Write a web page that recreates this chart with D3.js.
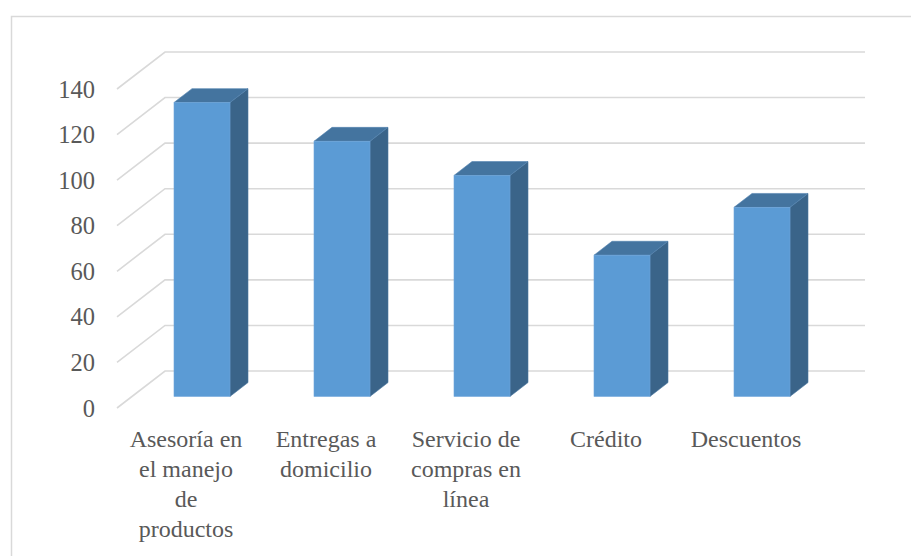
<!DOCTYPE html>
<html>
<head>
<meta charset="utf-8">
<script src="https://cdn.jsdelivr.net/npm/d3@7"></script>
<style>
  html, body { margin: 0; padding: 0; background: #ffffff; }
  svg { display: block; }
</style>
</head>
<body>
<script>
// Servicios valorados por los clientes
const categories = [
  "Asesoría en el manejo de productos",
  "Entregas a domicilio",
  "Servicio de compras en línea",
  "Crédito",
  "Descuentos"
];
const categoryLines = [
  ["Asesoría en", "el manejo", "de", "productos"],
  ["Entregas a", "domicilio"],
  ["Servicio de", "compras en", "línea"],
  ["Crédito"],
  ["Descuentos"]
];
const values = [129, 112, 97, 62, 83];
const yTicks = [0, 20, 40, 60, 80, 100, 120, 140];

const SERIF = "Liberation Serif, DejaVu Serif, Noto Serif, Tinos, FreeSerif, Nimbus Roman, Times New Roman, Times, serif";

const W = 911, H = 556;
const svg = d3.select("body").append("svg")
  .attr("width", W).attr("height", H)
  .attr("font-family", SERIF);

// Chart area frame
svg.append("rect")
  .attr("x", 11.5).attr("y", 16.5)
  .attr("width", W + 10).attr("height", H + 10)
  .attr("fill", "none").attr("stroke", "#d9d9d9").attr("stroke-width", 1.5);

// Front plane scales and oblique depth vector
const x = d3.scaleBand().domain(categories).range([117, 817])
  .paddingInner(0.6).paddingOuter(0.3);
const y = d3.scaleLinear().domain([0, 140]).range([408, 89]);
const depth = { dx: 48, dy: -37 };
const P = (px, v, f) => [px + depth.dx * f, y(v) + depth.dy * f];

const [x0, x1] = x.range();

// Gridlines: side wall diagonals + back wall horizontals
const grid = svg.append("g").attr("stroke", "#d9d9d9").attr("stroke-width", 1.6).attr("fill", "none");
yTicks.forEach(t => {
  const a = P(x0, t, 0), b = P(x0, t, 1), c = P(x1, t, 1);
  grid.append("path").attr("d", d3.line()([a, b, c]));
});

// Value axis labels
svg.append("g").selectAll("text").data(yTicks).join("text")
  .attr("x", 95).attr("y", d => y(d))
  .attr("dy", "0.35em")
  .attr("text-anchor", "end")
  .attr("font-family", SERIF)
  .attr("font-size", 24.5)
  .attr("fill", "#595959")
  .text(d => d);

// 3D columns
const f0 = 0.3125, f1 = 0.6875;
const bars = svg.append("g");
categories.forEach((c, i) => {
  const v = values[i];
  const bx0 = x(c), bx1 = x(c) + x.bandwidth();
  const g = bars.append("g");
  // side face
  g.append("path")
    .attr("d", d3.line()([P(bx1, 0, f0), P(bx1, v, f0), P(bx1, v, f1), P(bx1, 0, f1)]) + "Z")
    .attr("fill", "#3a6489").attr("stroke", "#4a77a0").attr("stroke-width", 0.6);
  // top face
  g.append("path")
    .attr("d", d3.line()([P(bx0, v, f0), P(bx1, v, f0), P(bx1, v, f1), P(bx0, v, f1)]) + "Z")
    .attr("fill", "#44749f").attr("stroke", "#5283b0").attr("stroke-width", 0.6);
  // front face
  const tl = P(bx0, v, f0), br = P(bx1, 0, f0);
  g.append("rect")
    .attr("x", tl[0]).attr("y", tl[1])
    .attr("width", br[0] - tl[0]).attr("height", br[1] - tl[1])
    .attr("fill", "#5b9bd5").attr("stroke", "#6fa6da").attr("stroke-width", 0.6);
});

// Category labels
const labels = svg.append("g")
  .attr("font-family", SERIF)
  .attr("font-size", 24)
  .attr("fill", "#595959")
  .attr("text-anchor", "middle");
categories.forEach((c, i) => {
  const cx = x(c) + x.bandwidth() / 2 - 1;
  const t = labels.append("text").attr("x", cx).attr("y", 447);
  categoryLines[i].forEach((line, j) => {
    t.append("tspan").attr("x", cx).attr("y", 447 + j * 30).text(line);
  });
});
</script>
</body>
</html>
